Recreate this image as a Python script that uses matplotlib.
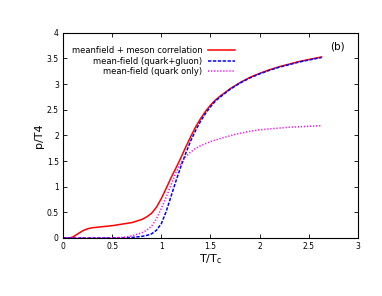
import numpy as np
import matplotlib
matplotlib.use('Agg')
import matplotlib.pyplot as plt

# 데이터
t_red = [0.0, 0.07, 0.1, 0.15, 0.2, 0.25, 0.3, 0.4, 0.5, 0.6, 0.7, 0.8, 0.85, 0.9, 0.95, 1.0,
         1.05, 1.1, 1.15, 1.2, 1.25, 1.3, 1.35, 1.4, 1.45, 1.5, 1.55, 1.6, 1.7, 1.8, 1.9, 2.0,
         2.1, 2.2, 2.3, 2.4, 2.5, 2.63]
p_red = [0.0, 0.0, 0.02, 0.08, 0.14, 0.18, 0.2, 0.22, 0.24, 0.27, 0.3, 0.36, 0.41, 0.48, 0.6, 0.77,
         0.97, 1.18, 1.37, 1.57, 1.78, 1.98, 2.17, 2.33, 2.47, 2.59, 2.69, 2.77, 2.91, 3.03, 3.13, 3.21,
         3.28, 3.34, 3.39, 3.44, 3.48, 3.53]

t_blue = [0.0, 0.3, 0.5, 0.6, 0.7, 0.8, 0.85, 0.9, 0.95, 1.0, 1.05, 1.1, 1.15, 1.2, 1.25, 1.3,
          1.35, 1.4, 1.45, 1.5, 1.55, 1.6, 1.7, 1.8, 1.9, 2.0, 2.1, 2.2, 2.3, 2.4, 2.5, 2.63]
p_blue = [0.0, 0.0, 0.0, 0.0, 0.01, 0.03, 0.05, 0.08, 0.15, 0.28, 0.52, 0.82, 1.12, 1.4, 1.66, 1.9,
          2.1, 2.28, 2.43, 2.56, 2.67, 2.75, 2.9, 3.02, 3.12, 3.2, 3.27, 3.33, 3.38, 3.43, 3.47, 3.52]

t_mag = [0.0, 0.3, 0.4, 0.5, 0.6, 0.7, 0.8, 0.85, 0.9, 0.95, 1.0, 1.05, 1.1, 1.15, 1.2, 1.25,
         1.3, 1.35, 1.4, 1.5, 1.6, 1.75, 1.9, 2.0, 2.3, 2.63]
p_mag = [0.0, 0.0, 0.0, 0.0, 0.01, 0.04, 0.1, 0.15, 0.23, 0.37, 0.58, 0.8, 1.04, 1.28, 1.47, 1.59,
         1.68, 1.75, 1.8, 1.88, 1.94, 2.02, 2.08, 2.11, 2.16, 2.19]

labels = ['meanfield + meson correlation', 'mean-field (quark+gluon)', 'mean-field (quark only)']

fig = plt.figure(figsize=(3.82, 2.96), dpi=100)
ax = fig.add_axes([0.165, 0.196, 0.772, 0.693])

ax.plot(t_red, p_red, color='#ff0000', lw=1.1, ls='-', label=labels[0])
ax.plot(t_blue, p_blue, color='#0000ff', lw=1.1, ls=(0, (2.2, 1.0)), label=labels[1])
ax.plot(t_mag, p_mag, color='#ff00ff', lw=1.1, ls=(0, (0.8, 1.2)), label=labels[2])

ax.set_xlim(0, 3)
ax.set_ylim(0, 4)
ax.set_xticks(np.arange(0, 3.01, 0.5))
ax.set_yticks(np.arange(0, 4.01, 0.5))
ax.set_xticklabels(['0', '0.5', '1', '1.5', '2', '2.5', '3'])
ax.set_yticklabels(['0', '0.5', '1', '1.5', '2', '2.5', '3', '3.5', '4'])
ax.tick_params(direction='in', top=True, right=True, length=3, width=0.6, labelsize=5.5, pad=3)
for s in ax.spines.values():
    s.set_linewidth(0.8)

ax.set_xlabel('T/T$_{\\rm c}$', fontsize=8, labelpad=1)
ax.set_ylabel('p/T4', fontsize=8, labelpad=2)

ax.text(0.955, 0.935, '(b)', transform=ax.transAxes, fontsize=7.5, ha='right', va='center')

ax.legend(loc='upper left', bbox_to_anchor=(0.016, 0.955), frameon=False, markerfirst=False,
          fontsize=6.0, handlelength=3.2, handletextpad=0.7, labelspacing=0.15, borderpad=0)
leg = ax.get_legend()
for t in leg.get_texts():
    t.set_ha('right')
leg._legend_box.align = 'right'

fig.savefig('out.png', dpi=100)
